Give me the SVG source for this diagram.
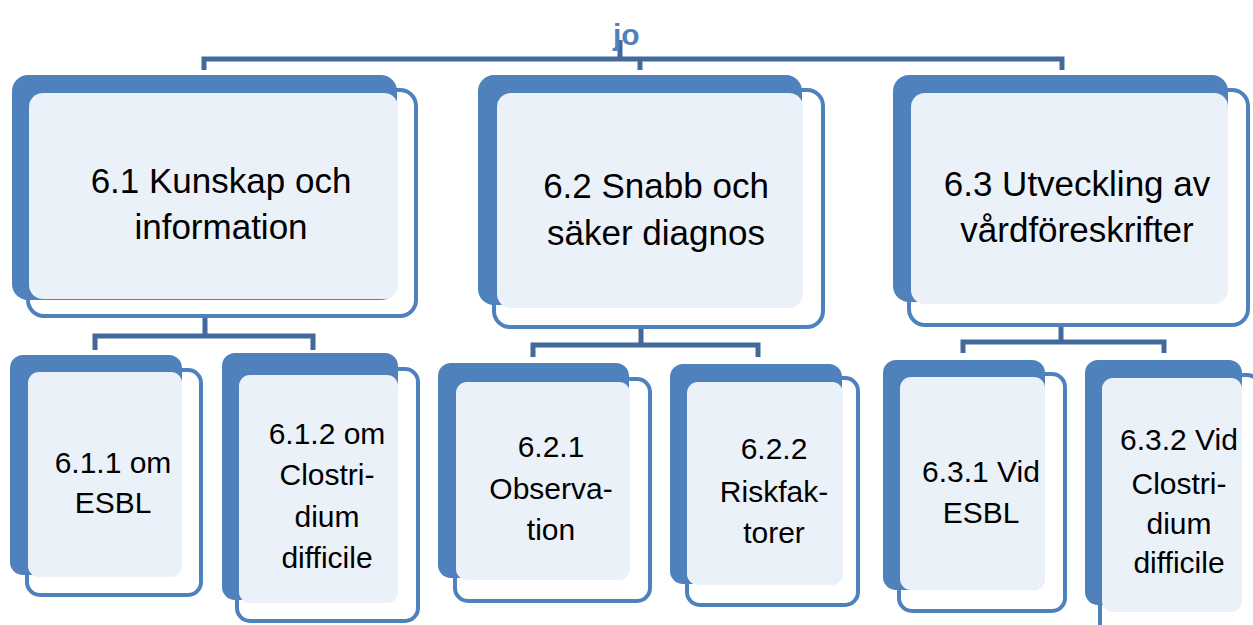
<svg xmlns="http://www.w3.org/2000/svg" width="1253" height="625" viewBox="0 0 1253 625">
<style>
.out{fill:#FFFFFF;stroke:#4F81BD;stroke-width:4}
.blue{fill:#4F81BD}
.lite{fill:#EBF1F8}
.con{fill:none;stroke:#41699B;stroke-width:5;stroke-linejoin:miter}
.t1{font-family:"Liberation Sans",Arial,sans-serif;font-size:35px;fill:#000;text-anchor:middle}
.t2{font-family:"Liberation Sans",Arial,sans-serif;font-size:30px;fill:#000;text-anchor:middle}
.root{font-family:"Liberation Sans",Arial,sans-serif;font-size:30px;font-weight:bold;fill:#4F81BD}
</style>
<rect width="1253" height="625" fill="#FFFFFF"/>
<g id="connectors">
<path class="con" d="M620,40 V59 M204,70 V59 H1062 V70 M640,59 V70"/>
<path class="con" d="M205,316 V336 M95,350 V336 H313 V350"/>
<path class="con" d="M641,327 V345 M533,357 V345 H758 V357"/>
<path class="con" d="M1061,325 V342 M963,353 V342 H1164 V353"/>
</g>
<g id="root">
<text class="root" x="613" y="45">jo</text>
</g>
<g id="n61">
<rect class="out" x="28" y="90" width="388" height="226" rx="16"/>
<rect class="blue" x="12" y="75" width="385" height="225" rx="16"/>
<rect class="lite" x="29" y="93" width="369" height="206" rx="14"/>
<text class="t1" x="221" y="193">6.1 Kunskap och</text>
<text class="t1" x="221" y="239">information</text>
</g>
<g id="n62">
<rect class="out" x="494" y="90" width="329" height="237" rx="16"/>
<rect class="blue" x="478" y="75" width="324" height="230" rx="16"/>
<rect class="lite" x="497" y="93" width="306" height="215" rx="14"/>
<text class="t1" x="656" y="198">6.2 Snabb och</text>
<text class="t1" x="656" y="245">säker diagnos</text>
</g>
<g id="n63">
<rect class="out" x="909" y="90" width="339" height="235" rx="16"/>
<rect class="blue" x="893" y="75" width="335" height="227" rx="16"/>
<rect class="lite" x="911" y="93" width="317" height="211" rx="14"/>
<text class="t1" x="1077" y="196">6.3 Utveckling av</text>
<text class="t1" x="1077" y="242">vårdföreskrifter</text>
</g>
<g id="n611">
<rect class="out" x="27" y="370" width="174" height="225" rx="13"/>
<rect class="blue" x="10" y="355" width="172" height="220" rx="13"/>
<rect class="lite" x="28" y="372" width="154" height="205" rx="11"/>
<text class="t2" x="113" y="473">6.1.1 om</text>
<text class="t2" x="113" y="513">ESBL</text>
</g>
<g id="n612">
<rect class="out" x="237" y="369" width="181" height="252" rx="13"/>
<rect class="blue" x="222" y="353" width="176" height="247" rx="13"/>
<rect class="lite" x="239" y="375" width="159" height="228" rx="11"/>
<text class="t2" x="327" y="444">6.1.2 om</text>
<text class="t2" x="327" y="485">Clostri-</text>
<text class="t2" x="327" y="527">dium</text>
<text class="t2" x="327" y="568">difficile</text>
</g>
<g id="n621">
<rect class="out" x="455" y="379" width="195" height="222" rx="13"/>
<rect class="blue" x="438" y="363" width="191" height="215" rx="13"/>
<rect class="lite" x="456" y="382" width="174" height="198" rx="11"/>
<text class="t2" x="551" y="457">6.2.1</text>
<text class="t2" x="551" y="499">Observa-</text>
<text class="t2" x="551" y="540">tion</text>
</g>
<g id="n622">
<rect class="out" x="687" y="378" width="171" height="227" rx="13"/>
<rect class="blue" x="670" y="364" width="172" height="220" rx="13"/>
<rect class="lite" x="687" y="382" width="156" height="203" rx="11"/>
<text class="t2" x="774" y="459">6.2.2</text>
<text class="t2" x="774" y="502">Riskfak-</text>
<text class="t2" x="774" y="543">torer</text>
</g>
<g id="n631">
<rect class="out" x="899" y="374" width="166" height="237" rx="13"/>
<rect class="blue" x="883" y="360" width="162" height="230" rx="13"/>
<rect class="lite" x="900" y="377" width="145" height="213" rx="11"/>
<text class="t2" x="981" y="482">6.3.1 Vid</text>
<text class="t2" x="981" y="523">ESBL</text>
</g>
<g id="n632">
<rect class="out" x="1100" y="375" width="160" height="262" rx="13"/>
<rect class="blue" x="1085" y="360" width="157" height="245" rx="13"/>
<rect class="lite" x="1102" y="378" width="140" height="234" rx="11"/>
<text class="t2" x="1179" y="450">6.3.2 Vid</text>
<text class="t2" x="1179" y="494">Clostri-</text>
<text class="t2" x="1179" y="534">dium</text>
<text class="t2" x="1179" y="573">difficile</text>
</g>
</svg>
